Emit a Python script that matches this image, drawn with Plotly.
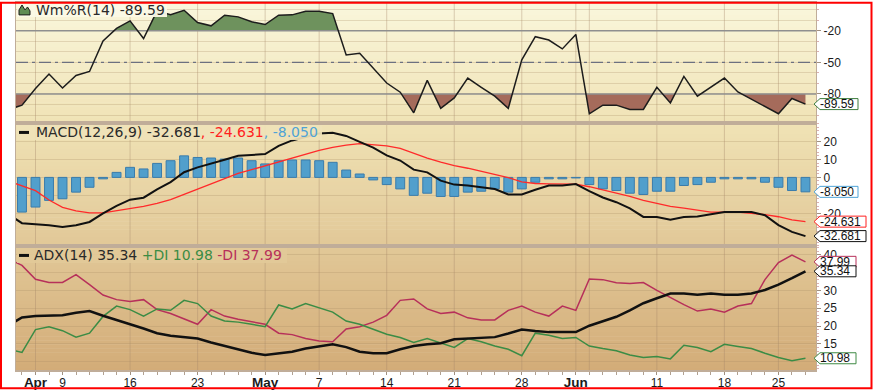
import numpy as np
import plotly.graph_objects as go

# ---------------- data (trading-day index; 0 = first April session) ----------------
day_index = list(range(-2, 58))
tick_days = [0, 2, 7, 12, 17, 21, 26, 31, 36, 40, 46, 51, 55]
tick_labels = ["Apr", "9", "16", "23", "May", "7", "14", "21", "28", "Jun", "11", "18", "25"]
month_labels = ["Apr", "May", "Jun"]
grid_days = [0, 7, 12, 17, 21, 26, 31, 36, 40, 41, 46, 51, 55]

wmr = [-94.9, -90.6, -74.9, -61.1, -74.3, -62.4, -58.6, -29.7, -17.8, -10.6,
       -27.3, -1.2, -4.7, -0.5, -12.2, -15.3, -5.2, -6.8, -11.5, -14.1,
       -5.2, -4.9, -1.5, -1.5, -3.7, -42.9, -41.4, -55.8, -69.6, -78.3,
       -97.9, -67.1, -93.7, -83.7, -64.9, -73.7, -82.1, -93.7, -47.6, -25.6,
       -28.8, -37.2, -23.5, -98.8, -90.6, -90.6, -94.7, -94.7, -73.7, -88.5,
       -63.3, -82.1, -73.7, -64.9, -78.1, -85.0, -91.9, -98.8, -84.3, -89.59]
wmr_levels = [-20, -50, -80]

macd = [-20.6, -25.5, -26.1, -26.6, -27.6, -26.6, -24.8, -20.0, -15.9, -12.4,
        -11.3, -6.7, -2.6, 2.9, 5.6, 7.5, 9.8, 12.0, 12.6, 13.0,
        17.6, 20.6, 22.5, 24.5, 24.9, 23.1, 19.8, 16.6, 12.3, 9.4,
        4.3, 2.8, -1.8, -4.0, -4.5, -5.5, -6.5, -9.5, -9.5, -6.9,
        -4.5, -4.5, -3.7, -7.6, -11.2, -13.8, -17.2, -22.0, -22.0, -23.5,
        -22.0, -21.7, -20.6, -19.3, -19.3, -19.3, -21.1, -26.6, -30.3, -32.681]
signal = [-2.0, -4.8, -7.4, -12.6, -16.7, -18.6, -19.8, -19.7, -18.6, -17.4,
          -16.1, -14.5, -12.4, -9.4, -6.5, -3.7, -0.6, 2.2, 4.3, 6.5,
          8.3, 10.7, 12.9, 15.1, 16.7, 18.0, 18.8, 18.4, 17.6, 16.2,
          13.3, 10.8, 8.5, 6.5, 5.1, 3.5, 1.5, -0.1, -2.5, -3.4,
          -3.6, -3.6, -3.7, -5.2, -6.9, -8.6, -10.6, -12.8, -14.5, -16.1,
          -17.1, -18.0, -19.3, -19.3, -19.3, -20.0, -20.7, -21.9, -23.6, -24.631]
hist = [-19.0, -19.3, -16.5, -12.8, -11.9, -8.2, -5.5, -0.8, 2.8, 5.6,
        4.7, 7.8, 9.3, 12.0, 11.1, 10.8, 10.2, 10.8, 9.3, 7.5,
        9.3, 9.7, 9.7, 9.3, 8.4, 4.1, 1.9, -1.4, -4.0, -6.4,
        -10.0, -8.8, -10.6, -10.6, -8.2, -7.7, -6.4, -8.2, -6.4, -2.7,
        -0.8, -0.8, -0.3, -4.0, -6.4, -7.3, -8.8, -9.5, -7.7, -7.7,
        -4.5, -4.0, -2.7, -0.8, -0.8, -0.8, -2.7, -5.5, -7.3, -8.05]

adx = [20.2, 22.4, 22.8, 22.8, 23.0, 23.7, 24.2, 22.9, 21.6, 20.5,
       19.3, 18.0, 17.3, 16.9, 16.5, 15.4, 14.5, 13.4, 12.5, 11.9,
       12.3, 12.8, 13.7, 14.3, 14.9, 14.1, 12.8, 12.4, 12.4, 13.5,
       14.4, 14.9, 15.2, 16.3, 16.5, 16.5, 16.9, 17.9, 19.0, 18.6,
       18.3, 18.3, 18.3, 20.1, 21.4, 22.6, 24.4, 26.4, 27.8, 29.1,
       29.1, 28.8, 29.1, 28.8, 28.8, 29.1, 30.1, 31.6, 33.4, 35.34]
plus_di = [13.5, 12.6, 19.0, 19.8, 18.7, 16.9, 18.0, 22.7, 25.6, 24.6,
           22.8, 24.8, 24.4, 27.2, 26.3, 22.8, 21.4, 21.1, 20.5, 19.8,
           25.9, 24.8, 26.3, 25.1, 23.9, 21.4, 20.5, 19.1, 17.7, 16.8,
           15.4, 16.5, 15.2, 14.0, 16.5, 15.6, 14.4, 13.5, 11.7, 18.0,
           17.4, 16.5, 16.8, 14.4, 13.7, 13.1, 11.9, 11.2, 11.5, 10.8,
           14.6, 14.0, 12.8, 14.9, 14.3, 13.7, 12.4, 11.2, 10.3, 10.98]
minus_di = [38.8, 37.0, 33.1, 32.2, 32.2, 34.4, 31.6, 28.7, 27.4, 26.9,
            27.4, 24.6, 23.5, 22.0, 20.5, 24.6, 22.8, 21.9, 21.1, 20.5,
            18.0, 17.6, 16.5, 15.8, 15.6, 19.2, 19.8, 21.1, 23.0, 27.2,
            27.6, 24.8, 23.5, 23.9, 22.3, 21.7, 21.7, 24.4, 25.6, 23.9,
            22.8, 25.6, 24.4, 33.2, 33.0, 32.1, 31.9, 32.2, 30.0, 27.9,
            26.0, 24.2, 24.8, 23.9, 25.6, 26.3, 33.0, 37.8, 39.9, 37.99]

macd_ticks = [-20, -10, 0, 10, 20]
macd_tick_text = ["-20", "", "0", "10", "20"]      # -10 sits under the value tag
adx_ticks = [10, 15, 20, 25, 30, 35, 40]
adx_tick_text = ["", "15", "20", "25", "30", "", "40"]  # 10 and 35 sit under value tags

# ---------------- geometry ----------------
W, H = 873, 391
ML, MR, MT, MB = 16, 57, 1, 20
PW = W - ML - MR
PH = H - MT - MB


def px2x(px):
    return (px - ML) / PW


def py2y(py):
    return (H - MB - py) / PH


X_RANGE = [-1.4435, 57.78]
D1 = [py2y(122), 1.0]
D2 = [py2y(246), py2y(122)]
D3 = [0.0, py2y(246)]
Y1 = [-107.57, 6.37]
Y2 = [-38.2, 30.28]
Y3 = [7.69, 42.42]

LBL_FONT = "DejaVu Sans"
AX_FONT = "Liberation Sans"
EDGE = "#c0ad99"
GRID = "rgba(170,140,100,0.28)"

fig = go.Figure()


def split_at(xv, yv, level):
    xs, ys = [xv[0]], [yv[0]]
    for i in range(1, len(xv)):
        a, b = yv[i - 1], yv[i]
        if (a - level) * (b - level) < 0:
            t = (level - a) / (b - a)
            xs.append(xv[i - 1] + t * (xv[i] - xv[i - 1]))
            ys.append(level)
        xs.append(xv[i])
        ys.append(b)
    return np.array(xs, float), np.array(ys, float)


# ---------------- panel 1 : Williams %R ----------------
xg, yg = split_at(day_index, wmr, wmr_levels[0])
fig.add_trace(go.Scatter(x=xg, y=np.full(len(xg), wmr_levels[0]), mode="lines",
                         line=dict(width=0), hoverinfo="skip", xaxis="x", yaxis="y"))
fig.add_trace(go.Scatter(x=xg, y=np.maximum(yg, wmr_levels[0]), mode="lines",
                         line=dict(width=0), fill="tonexty", fillcolor="#6e925d",
                         hoverinfo="skip", xaxis="x", yaxis="y"))
xb, yb = split_at(day_index, wmr, wmr_levels[2])
fig.add_trace(go.Scatter(x=xb, y=np.full(len(xb), wmr_levels[2]), mode="lines",
                         line=dict(width=0), hoverinfo="skip", xaxis="x", yaxis="y"))
fig.add_trace(go.Scatter(x=xb, y=np.minimum(yb, wmr_levels[2]), mode="lines",
                         line=dict(width=0), fill="tonexty", fillcolor="#a56b5b",
                         hoverinfo="skip", xaxis="x", yaxis="y"))
for lvl in wmr_levels:
    dash = "12px,4px,3px,4px" if lvl == -50 else "solid"
    col = "#6c7080" if lvl == -50 else "#8f8f8f"
    fig.add_trace(go.Scatter(x=X_RANGE, y=[lvl, lvl], mode="lines",
                             line=dict(color=col, width=1.4, dash=dash),
                             hoverinfo="skip", xaxis="x", yaxis="y"))
fig.add_trace(go.Scatter(x=day_index, y=wmr, mode="lines",
                         line=dict(color="#1c1c1c", width=1.5),
                         xaxis="x", yaxis="y"))

# ---------------- panel 2 : MACD ----------------
fig.add_trace(go.Bar(x=day_index, y=hist, width=0.66,
                     marker=dict(color="#519fcc", line=dict(color="#3a7cab", width=1)),
                     xaxis="x2", yaxis="y2"))
fig.add_trace(go.Scatter(x=day_index, y=signal, mode="lines",
                         line=dict(color="#ff2a2a", width=1.3), xaxis="x2", yaxis="y2"))
fig.add_trace(go.Scatter(x=day_index, y=macd, mode="lines",
                         line=dict(color="#111111", width=2), xaxis="x2", yaxis="y2"))

# ---------------- panel 3 : ADX ----------------
fig.add_trace(go.Scatter(x=day_index, y=minus_di, mode="lines",
                         line=dict(color="#b7305a", width=1.5), xaxis="x3", yaxis="y3"))
fig.add_trace(go.Scatter(x=day_index, y=plus_di, mode="lines",
                         line=dict(color="#3b8c45", width=1.5), xaxis="x3", yaxis="y3"))
fig.add_trace(go.Scatter(x=day_index, y=adx, mode="lines",
                         line=dict(color="#111111", width=2.5), xaxis="x3", yaxis="y3"))

# ---------------- shapes ----------------
shapes = []
stops = [(0, (250, 247, 220)), (120, (240, 227, 182)), (250, (225, 199, 150)), (371, (211, 172, 120))]


def grad_color(py):
    for (p0, c0), (p1, c1) in zip(stops[:-1], stops[1:]):
        if py <= p1:
            t = (py - p0) / (p1 - p0)
            return tuple(int(round(c0[k] + t * (c1[k] - c0[k]))) for k in range(3))
    return stops[-1][1]


py = MT
while py < H - MB:
    py_b = min(py + 4, H - MB)
    c = grad_color((py + py_b) / 2)
    shapes.append(dict(type="rect", xref="paper", yref="paper", x0=0, x1=1,
                       y0=py2y(min(py_b + 0.6, H - MB)), y1=py2y(py),
                       fillcolor="rgb(%d,%d,%d)" % c, line=dict(width=0), layer="below"))
    py = py_b

for d in grid_days:
    shapes.append(dict(type="line", xref="x", yref="paper", x0=d, x1=d, y0=0, y1=1,
                       line=dict(color="rgba(165,135,105,0.38)", width=1), layer="below"))

# legend backgrounds / swatches / icon
shapes.append(dict(type="rect", xref="paper", yref="paper", x0=px2x(17), x1=px2x(167),
                   y0=py2y(15), y1=py2y(1.5), fillcolor="rgba(251,249,230,0.95)",
                   line=dict(width=0), layer="above"))
shapes.append(dict(type="path", xref="paper", yref="paper", layer="above",
                   path="M %f,%f L %f,%f L %f,%f L %f,%f L %f,%f L %f,%f L %f,%f Z" % (
                       px2x(19), py2y(13), px2x(19), py2y(8), px2x(22), py2y(3),
                       px2x(25), py2y(8), px2x(27.5), py2y(5), px2x(30), py2y(9),
                       px2x(30), py2y(13)),
                   fillcolor="#5f8c52", line=dict(color="#1c1c1c", width=1)))
shapes.append(dict(type="rect", xref="paper", yref="paper", x0=px2x(17), x1=px2x(322),
                   y0=py2y(139), y1=py2y(124), fillcolor="rgba(239,226,184,0.92)",
                   line=dict(width=0), layer="above"))
shapes.append(dict(type="line", xref="paper", yref="paper", x0=px2x(19), x1=px2x(29),
                   y0=py2y(131.5), y1=py2y(131.5), line=dict(color="#111", width=3), layer="above"))
shapes.append(dict(type="rect", xref="paper", yref="paper", x0=px2x(17), x1=px2x(287),
                   y0=py2y(263), y1=py2y(248), fillcolor="rgba(226,201,152,0.92)",
                   line=dict(width=0), layer="above"))
shapes.append(dict(type="line", xref="paper", yref="paper", x0=px2x(19), x1=px2x(29),
                   y0=py2y(255.5), y1=py2y(255.5), line=dict(color="#111", width=3), layer="above"))

# outer red frame
shapes.append(dict(type="rect", xref="paper", yref="paper", x0=px2x(1), x1=px2x(871.5),
                   y0=py2y(389.5), y1=py2y(0.8), line=dict(color="#ff0000", width=2),
                   fillcolor="rgba(0,0,0,0)", layer="above"))

# ---------------- annotations ----------------
annotations = []
annotations.append(dict(xref="paper", yref="paper", x=px2x(34), y=py2y(8.5), xanchor="left",
                        yanchor="middle", showarrow=False,
                        text="Wm%%R(14) %.2f" % wmr[-1],
                        font=dict(family=LBL_FONT, size=14, color="#2a2a2a")))
annotations.append(dict(xref="paper", yref="paper", x=px2x(34), y=py2y(131.5), xanchor="left",
                        yanchor="middle", showarrow=False,
                        text=("MACD(12,26,9) %.3f<span style='color:#ff2020'>, %.3f</span>"
                              "<span style='color:#4fa3d6'>, %.3f</span>") % (macd[-1], signal[-1], hist[-1]),
                        font=dict(family=LBL_FONT, size=14, color="#2a2a2a")))
annotations.append(dict(xref="paper", yref="paper", x=px2x(32), y=py2y(255.5), xanchor="left",
                        yanchor="middle", showarrow=False,
                        text=("ADX(14) %.2f <span style='color:#3b8c45'>+DI %.2f</span> "
                              "<span style='color:#b7305a'>-DI %.2f</span>") % (adx[-1], plus_di[-1], minus_di[-1]),
                        font=dict(family=LBL_FONT, size=14, color="#2a2a2a")))

tags = [
    ("y", wmr[-1], "%.2f" % wmr[-1], "#3f7d3f"),
    ("y2", hist[-1], "%.3f" % hist[-1], "#4fa3d6"),
    ("y2", signal[-1], "%.3f" % signal[-1], "#ff2020"),
    ("y2", macd[-1], "%.3f" % macd[-1], "#111111"),
    ("y3", minus_di[-1], "%.2f" % minus_di[-1], "#b7305a"),
    ("y3", adx[-1], "%.2f" % adx[-1], "#111111"),
    ("y3", plus_di[-1], "%.2f" % plus_di[-1], "#3f8a45"),
]
tag_w = {5: 40, 6: 42, 7: 50}
for yref, val, txt, col in tags:
    w = tag_w.get(len(txt), 44)
    shapes.append(dict(type="path", xref="paper", yref=yref, xsizemode="pixel", ysizemode="pixel",
                       xanchor=1, yanchor=val, layer="above",
                       path="M -2,0 L 4,5.5 L %d,5.5 L %d,-5.5 L 4,-5.5 Z" % (w, w),
                       fillcolor="white", line=dict(color=col, width=1)))
    annotations.append(dict(xref="paper", yref=yref, x=1, y=val, xanchor="left", yanchor="middle",
                            xshift=2, showarrow=False, text=txt,
                            font=dict(family=AX_FONT, size=12, color="#111")))

# ---------------- layout ----------------
ticktext = ["<b><span style='font-size:13.5px'>%s</span></b>" % t if t in month_labels else t
            for t in tick_labels]

common_x = dict(showgrid=False, zeroline=False, showline=True, mirror=True,
                linecolor=EDGE, linewidth=1.5)
common_y = dict(side="right", zeroline=False, showline=True, mirror=True,
                linecolor=EDGE, linewidth=1.2, ticks="outside", ticklen=4, tickcolor="#a09080",
                tickfont=dict(family=AX_FONT, size=12, color="#1a1a1a"), fixedrange=True)

fig.update_layout(
    width=W, height=H,
    margin=dict(l=ML, r=MR, t=MT, b=MB, pad=0),
    paper_bgcolor="white", plot_bgcolor="rgba(0,0,0,0)",
    showlegend=False, hovermode=False, barmode="overlay",
    xaxis=dict(domain=[0, 1], anchor="y", range=X_RANGE, showticklabels=False, ticks="", **common_x),
    xaxis2=dict(domain=[0, 1], anchor="y2", matches="x", showticklabels=False, ticks="", **common_x),
    xaxis3=dict(domain=[0, 1], anchor="y3", matches="x", tickmode="array", tickvals=tick_days,
                ticktext=ticktext, ticks="outside", ticklen=3, tickcolor="#a09080",
                ticklabelstandoff=-2,
                tickfont=dict(family=AX_FONT, size=12, color="#1a1a1a"),
                minor=dict(tickmode="linear", tick0=0, dtick=1, ticks="outside", ticklen=3,
                           tickcolor="#b0a090", showgrid=False),
                **common_x),
    yaxis=dict(domain=D1, anchor="x", range=Y1, tickmode="array", tickvals=wmr_levels,
               ticktext=[str(v) for v in wmr_levels], showgrid=False,
               minor=dict(tickmode="linear", tick0=0, dtick=10, ticks="outside", ticklen=2,
                          tickcolor="#dcb0b0", showgrid=True, gridcolor=GRID, gridwidth=1),
               **common_y),
    yaxis2=dict(domain=D2, anchor="x2", range=Y2, tickmode="array",
                tickvals=macd_ticks, ticktext=macd_tick_text, showgrid=True, gridcolor=GRID,
                minor=dict(tickmode="linear", tick0=0, dtick=2, ticks="outside", ticklen=2,
                           tickcolor="#dcb0b0", showgrid=False),
                **common_y),
    yaxis3=dict(domain=D3, anchor="x3", range=Y3, tickmode="array",
                tickvals=adx_ticks, ticktext=adx_tick_text, showgrid=True, gridcolor=GRID,
                minor=dict(tickmode="linear", tick0=0, dtick=1, ticks="outside", ticklen=2,
                           tickcolor="#dcb0b0", showgrid=False),
                **common_y),
    shapes=shapes,
    annotations=annotations,
)

fig.write_html("out.html")
